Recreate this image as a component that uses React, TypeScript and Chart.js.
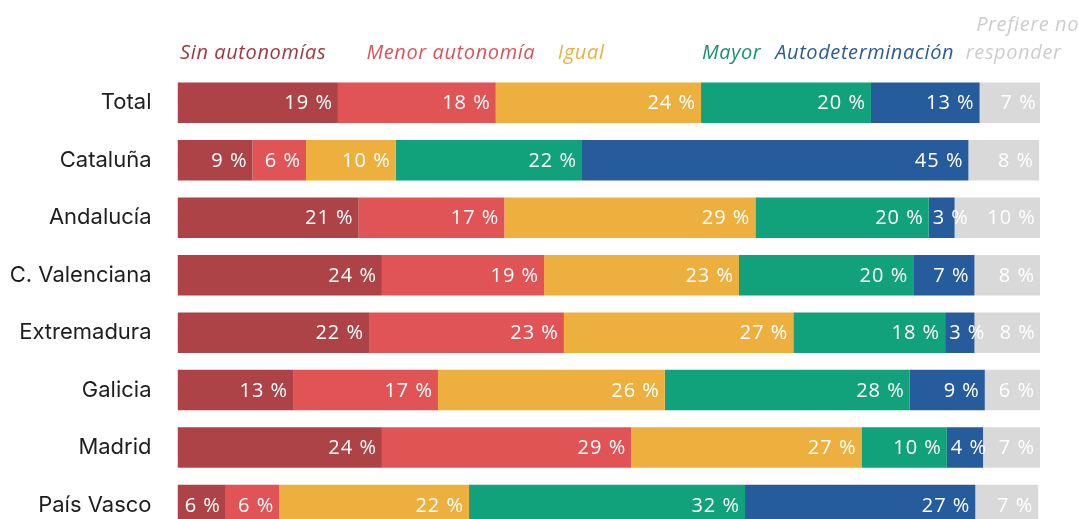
import React, { useEffect, useRef } from "react";
import { Chart, registerables } from "chart.js";

Chart.register(...registerables);

const categories = [
  "Total",
  "Cataluña",
  "Andalucía",
  "C. Valenciana",
  "Extremadura",
  "Galicia",
  "Madrid",
  "País Vasco",
];

const seriesNames = [
  "Sin autonomías",
  "Menor autonomía",
  "Igual",
  "Mayor",
  "Autodeterminación",
  "Prefiere no responder",
];

const sinAutonomias = [18.6, 8.7, 21.0, 23.7, 22.2, 13.4, 23.7, 5.6];
const menorAutonomia = [18.3, 6.2, 16.9, 18.8, 22.6, 16.8, 28.9, 6.2];
const igual = [23.8, 10.4, 29.1, 22.6, 26.6, 26.3, 26.7, 22.0];
const mayor = [19.7, 21.6, 20.1, 20.2, 17.6, 28.4, 9.9, 32.0];
const autodeterminacion = [12.6, 44.8, 3.0, 7.1, 3.4, 8.7, 4.2, 26.7];
const prefiereNo = [7.2, 8.2, 10.0, 7.6, 7.7, 6.4, 6.6, 7.3];

const barColors = ["#ae4347", "#e05456", "#edb03e", "#12a27b", "#275c9c", "#d9d9d9"];
const legendColors = ["#a3373e", "#de5255", "#e9b23c", "#17946f", "#2b5a98", "#cdcdcd"];

// header legend lines and their anchors, in percentage units of the x scale
const legendLines = [
  ["Sin autonomías"],
  ["Menor autonomía"],
  ["Igual"],
  ["Mayor"],
  ["Autodeterminación"],
  ["Prefiere no", "responder"],
];
const legendAnchors = [[0.3], [21.9], [44.1], [60.8], [69.3], [92.6, 91.4]];

const allSeries = [sinAutonomias, menorAutonomia, igual, mayor, autodeterminacion, prefiereNo];

const valueLabelPlugin = {
  id: "valueLabels",
  afterDatasetsDraw(chart: any) {
    const ctx = chart.ctx;
    ctx.save();
    ctx.font = '20px "Open Sans"';
    (ctx as any).letterSpacing = "1px";
    ctx.fillStyle = "#ffffff";
    ctx.textBaseline = "middle";
    chart.data.datasets.forEach((ds: any, di: number) => {
      const meta = chart.getDatasetMeta(di);
      meta.data.forEach((bar: any, i: number) => {
        const v = ds.data[i];
        const text = Math.round(v) + " %";
        const start = Math.min(bar.base, bar.x);
        const end = Math.max(bar.base, bar.x);
        const w = ctx.measureText(text).width;
        const pad = 6;
        if (w + pad * 2 > end - start) {
          ctx.textAlign = "left";
          ctx.fillText(text, start + 4, bar.y + 1);
        } else {
          ctx.textAlign = "right";
          ctx.fillText(text, end - pad + 1, bar.y + 1);
        }
      });
    });
    ctx.restore();
  },
};

const legendPlugin = {
  id: "headerLegend",
  afterDraw(chart: any) {
    const ctx = chart.ctx;
    const xs = chart.scales.x;
    ctx.save();
    ctx.font = 'italic 20px "Open Sans"';
    (ctx as any).letterSpacing = "0.6px";
    ctx.textBaseline = "middle";
    ctx.textAlign = "left";
    legendLines.forEach((lines, i) => {
      ctx.fillStyle = legendColors[i];
      const n = lines.length;
      lines.forEach((line, j) => {
        const y = 53 - (n - 1 - j) * 28;
        ctx.fillText(line, xs.getPixelForValue(legendAnchors[i][j]), y);
      });
    });
    ctx.restore();
  },
};

export default function App() {
  const ref = useRef<HTMLCanvasElement>(null);
  useEffect(() => {
    if (!ref.current) return;
    const chart = new Chart(ref.current, {
      type: "bar",
      data: {
        labels: categories,
        datasets: allSeries.map((d, i) => ({
          label: seriesNames[i],
          data: d,
          backgroundColor: barColors[i],
          borderWidth: 0,
          barPercentage: 0.705,
          categoryPercentage: 1,
        })),
      },
      options: {
        indexAxis: "y",
        responsive: false,
        animation: false,
        devicePixelRatio: 1,
        layout: { padding: { left: 0, right: 38, top: 74, bottom: 6 } },
        plugins: {
          legend: { display: false },
          tooltip: { enabled: false },
          title: { display: false },
        },
        scales: {
          x: {
            stacked: true,
            min: 0,
            max: 100,
            display: false,
          },
          y: {
            stacked: true,
            grid: { display: false, drawTicks: false },
            border: { display: false },
            ticks: {
              color: "#1e1e1e",
              font: { family: "Inter", size: 22 },
              padding: 26,
            },
            afterFit(scale: any) {
              scale.width = 177.5;
            },
          },
        },
      } as any,
      plugins: [valueLabelPlugin, legendPlugin],
    });
    return () => chart.destroy();
  }, []);
  return (
    <div style={{ position: "absolute", left: 0, top: 0, width: 1078, height: 573 }}>
      <canvas ref={ref} width={1078} height={573} style={{ display: "block", width: 1078, height: 573 }} />
    </div>
  );
}
